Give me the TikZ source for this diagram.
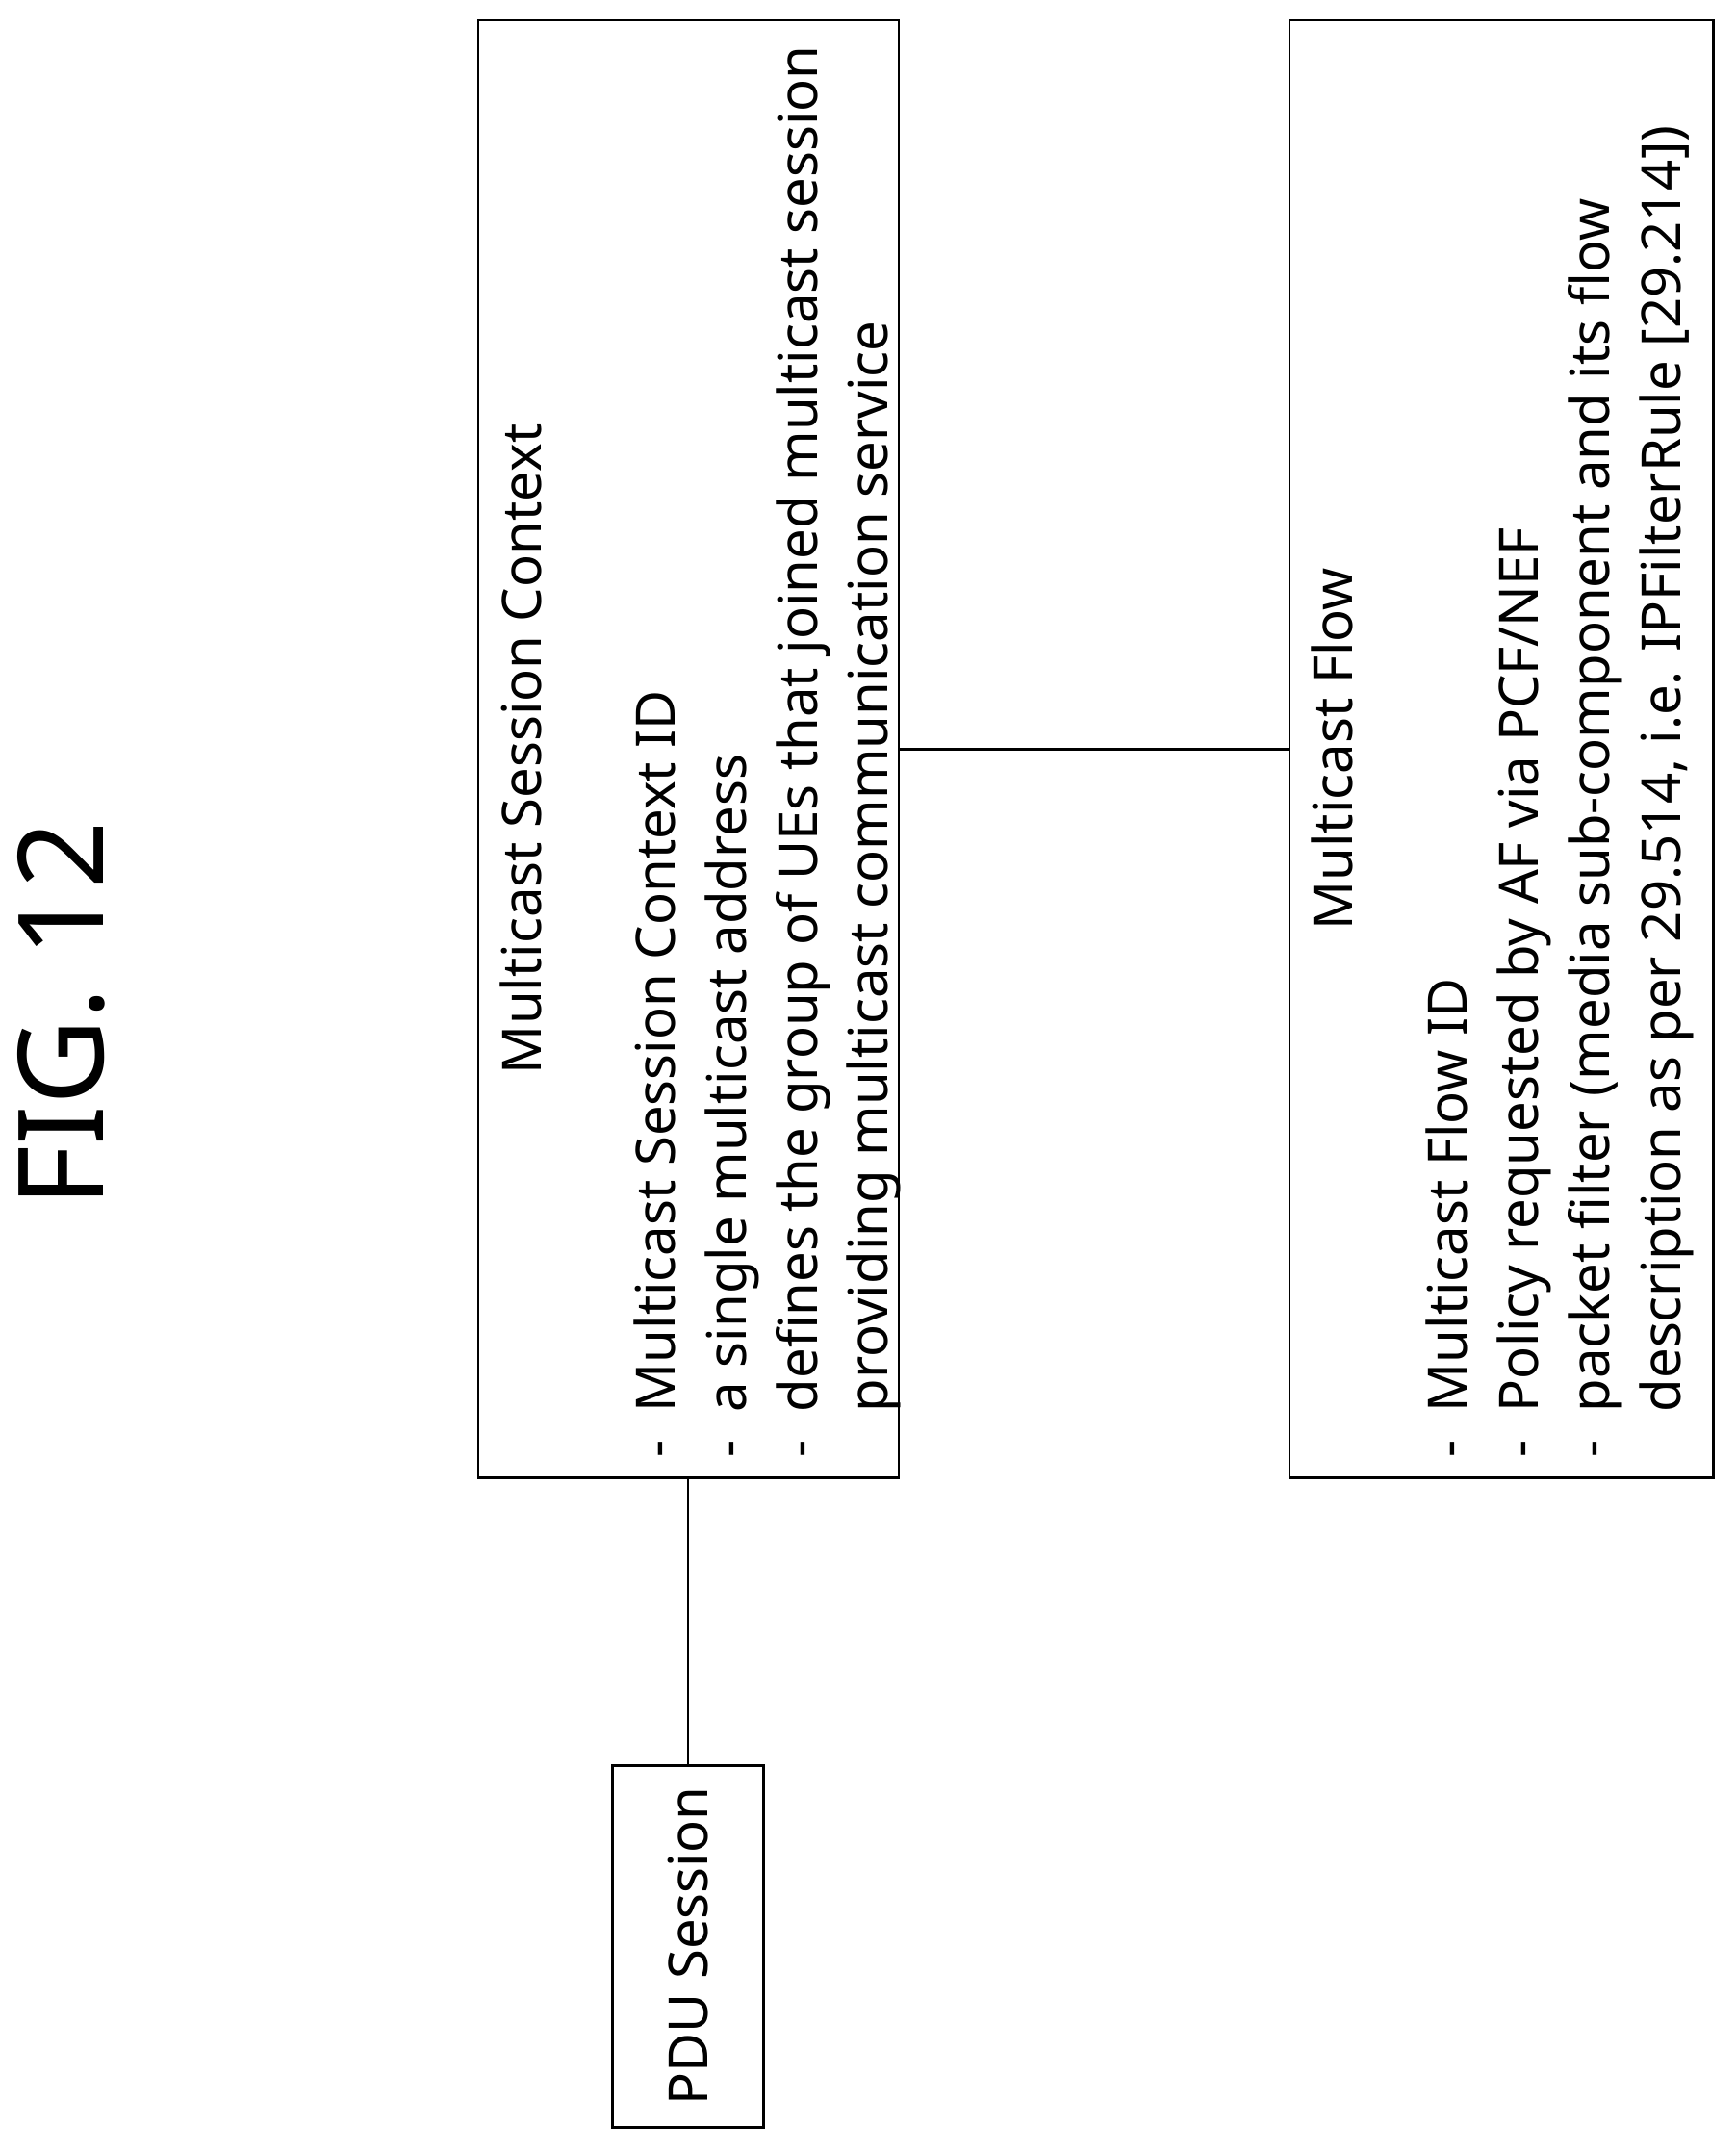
\documentclass[tikz,border=0pt]{standalone}
\usepackage{fontspec}
\setmainfont{Noto Sans}
\usepackage{tikz}
\usetikzlibrary{positioning}

\begin{document}
\begin{tikzpicture}[x=0.01424cm, y=-0.01424cm,
        box/.style={draw, line width=0.7pt, rotate=90, inner sep=0pt},
        txt/.style={rotate=90, font=\fontsize{16}{21}\selectfont, inner sep=0pt}]
        \useasboundingbox (0,0) rectangle (1266,1570);
        \node[rotate=90, font=\fontsize{35}{40}\selectfont] (fig) at (45,740) {FIG. 12};

        \node[box, minimum width=15.14cm, minimum height=4.37cm] (msc) at (502.5,546.5) {};
        \node[box, minimum width=15.14cm, minimum height=4.40cm] (mf) at (1095.5,546.5) {};
        \node[box, minimum width=3.76cm, minimum height=1.57cm] (pdu) at (502,1420) {};
        \node[txt] (pdutxt) at (pdu) {PDU Session};

        \node[txt] (msctitle) at (380,546.5) {Multicast Session Context};
        \node[txt, anchor=north west, align=left] (mscbody) at (462,1064)
            {- \ Multicast Session Context ID\\
             - \ a single multicast address\\
             - \ defines the group of UEs that joined multicast session\\
             \phantom{- \ }providing multicast communication service};

        \node[txt] (mftitle) at (972,546.5) {Multicast Flow};
        \node[txt, anchor=north west, align=left] (mfbody) at (1040,1064)
            {- \ Multicast Flow ID\\
             - \ Policy requested by AF via PCF/NEF\\
             - \ packet filter (media sub-component and its flow\\
             \phantom{- \ }description as per 29.514, i.e. IPFilterRule [29.214])};

        \draw[line width=0.7pt] (pdu.east) -- (pdu.east |- msc.west);
        \draw[line width=0.7pt] (msc.south) -- (mf.north);
\end{tikzpicture}
\end{document}
